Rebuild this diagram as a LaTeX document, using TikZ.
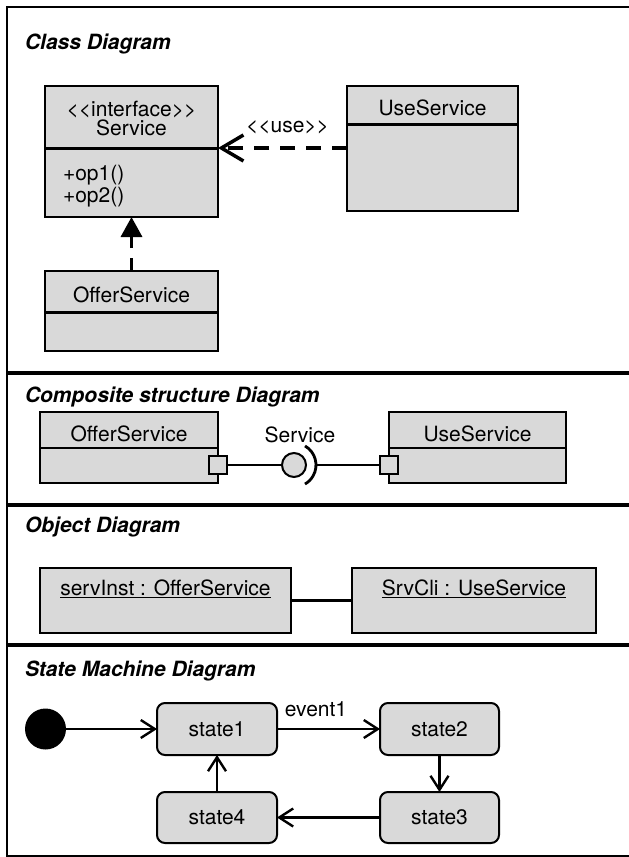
\documentclass[tikz,border=0pt]{standalone}
\usepackage{fontspec}
\setmainfont{TeX Gyre Heros}
\usetikzlibrary{arrows.meta}
\definecolor{boxfill}{gray}{0.85}
\newcommand{\stereo}[1]{<\kern0pt<#1>\kern0pt>}
\begin{document}
\begin{tikzpicture}[x=1pt,y=-1pt,
  every node/.style={font=\fontsize{21}{25}\selectfont, inner sep=0pt, outer sep=0pt},
  umlbox/.style={draw, line width=2pt, fill=boxfill, anchor=north west},
  divider/.style={line width=3pt},
  title/.style={font=\fontsize{21}{25}\selectfont\bfseries\itshape, anchor=base west},
  lbl/.style={anchor=base},
  sep/.style={line width=3.5pt},
  dep/.style={line width=3.5pt, dash pattern=on 15pt off 11pt, -{Straight Barb[length=22pt,width=26pt]}},
  real/.style={line width=3.5pt, dash pattern=on 13pt off 10pt, -{Triangle[length=20pt,width=21pt]}},
  port/.style={draw, line width=2pt, fill=boxfill, minimum size=18pt},
  ball/.style={draw, circle, line width=2pt, fill=boxfill, minimum size=24pt},
  state/.style={draw, line width=2pt, fill=boxfill, rounded corners=8pt, minimum width=120pt, minimum height=52pt},
  trans/.style={line width=2.4pt, -{Straight Barb[length=14pt,width=18pt]}},
  conn/.style={line width=2.8pt}]
\useasboundingbox (0,0) rectangle (629,857);
\clip (0,0) rectangle (629,857);
\fill[white] (0,0) rectangle (629,857);
% outer frame and separators
\draw[line width=1.8pt] (7,7) rectangle (660,856);
\draw[sep] (7,373) -- (660,373);
\draw[sep] (7,505) -- (660,505);
\draw[sep] (7,645) -- (660,645);

% ---------- Class Diagram ----------
\node[title] (t1) at (25,49) {Class Diagram};
\node[umlbox, minimum width=173pt, minimum height=131pt] (svc) at (45,86) {};
\draw[divider] (45,148) -- (218,148);
\node[lbl] (svcst) at (131.5,116) {\stereo{interface}};
\node[lbl] (svcname) at (131.5,135) {Service};
\node[anchor=base west] (op1) at (63,180) {+op1()};
\node[anchor=base west] (op2) at (63,202) {+op2()};

\node[umlbox, minimum width=171pt, minimum height=125pt] (use) at (347,86) {};
\draw[divider] (347,124) -- (518,124);
\node[lbl] (usename) at (432.5,115) {UseService};

\node[umlbox, minimum width=173pt, minimum height=80pt] (offer) at (45,271) {};
\draw[divider] (45,312) -- (218,312);
\node[lbl] (offername) at (131.5,302) {OfferService};

\draw[dep] (use.west |- 0,148) -- (svc.east |- 0,148);
\node[lbl] (uselbl) at (287.5,132) {\stereo{use}};
\draw[real] (offer.north) -- (svc.south);

% ---------- Composite structure Diagram ----------
\node[title] (t2) at (25,402) {Composite structure Diagram};
\node[umlbox, minimum width=178pt, minimum height=71pt] (cpoffer) at (40,412) {};
\draw[line width=2.5pt] (40,448) -- (218,448);
\node[lbl] (cpoffername) at (129,441) {OfferService};
\node[umlbox, minimum width=177pt, minimum height=71pt] (cpuse) at (389,412) {};
\draw[line width=2.5pt] (389,448) -- (566,448);
\node[lbl] (cpusename) at (477.5,441) {UseService};
\node[port] (p1) at (218,465) {};
\node[port] (p2) at (389,465) {};
\node[ball] (ball) at (294,465) {};
\coordinate (sockr) at (316,465);
\draw[conn] (p1.east) -- (ball.west);
\draw[conn] (ball.center) ++(-60:22) arc[start angle=-60, end angle=60, radius=22];
\draw[conn] (sockr) -- (p2.west);
\node[lbl] (ifname) at (300,442) {Service};

% ---------- Object Diagram ----------
\node[title] (t3) at (25,532) {Object Diagram};
\node[umlbox, minimum width=251pt, minimum height=65pt] (ob1) at (40,568) {};
\node[lbl] (ob1name) at (165.5,595) {\underline{servInst : OfferService}};
\node[umlbox, minimum width=244pt, minimum height=65pt] (ob2) at (352,568) {};
\node[lbl] (ob2name) at (474,595) {\underline{SrvCli : UseService}};
\draw[conn] (ob1.east) -- (ob2.west);

% ---------- State Machine Diagram ----------
\node[title] (t4) at (25,676) {State Machine Diagram};
\node[circle, fill=black, minimum size=41pt] (init) at (45.5,729) {};
\node[state] (s1) at (217,729) {state1};
\node[state, minimum width=119pt] (s2) at (439.5,729) {state2};
\node[state, minimum width=119pt, minimum height=51pt] (s3) at (439.5,817.5) {state3};
\node[state, minimum height=51pt] (s4) at (217,817.5) {state4};
\draw[trans] (init) -- (s1);
\draw[trans] (s1) -- (s2);
\node[lbl] (ev) at (316,716) {event1};
\draw[trans] (s2) -- (s3);
\draw[trans] (s3) -- (s4);
\draw[trans] (s4) -- (s1);
\end{tikzpicture}
\end{document}
